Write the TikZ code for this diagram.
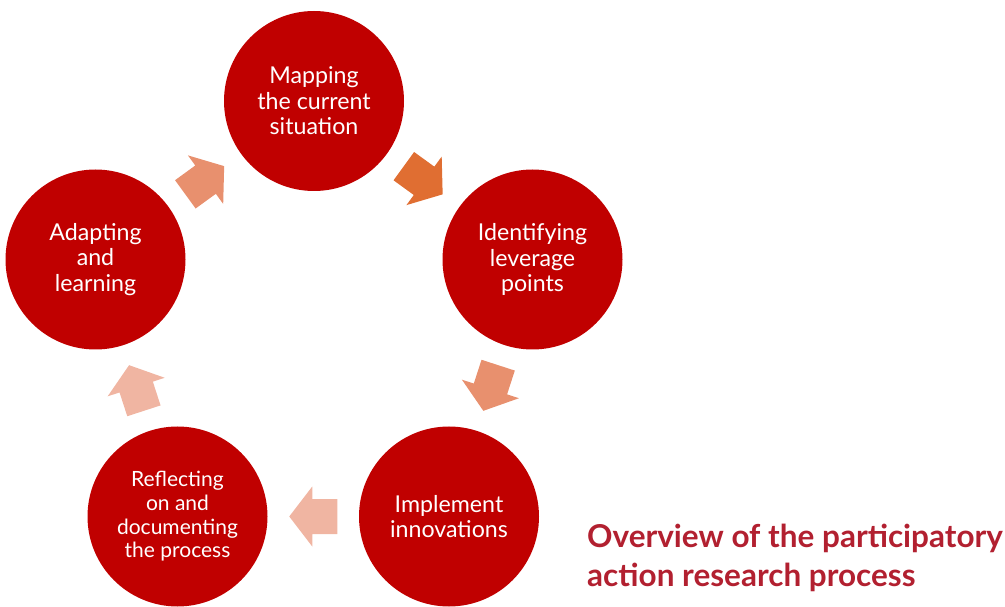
\documentclass[tikz,border=0pt]{standalone}
\usepackage{fontspec}
\setmainfont{Lato}
\usetikzlibrary{calc}

\definecolor{stepred}{RGB}{192,0,0}
\definecolor{titlered}{RGB}{178,32,48}
\definecolor{arrowdark}{RGB}{224,110,50}
\definecolor{arrowmid}{RGB}{232,144,110}
\definecolor{arrowlight}{RGB}{240,181,162}

\tikzset{
  stepcircle/.style={circle, fill=stepred, minimum size=180pt, inner sep=0pt,
    text=white, align=center, font=\fontsize{23.2}{25.6}\selectfont},
  % block arrow pointing along +x, centred on the origin
  cyclearrow/.pic={
    \fill[pic actions] (-24,-17.5) -- (1,-17.5) -- (1,-30) -- (24,0)
      -- (1,30) -- (1,17.5) -- (-24,17.5) -- cycle;
  }
}

\begin{document}
\begin{tikzpicture}[x=1pt, y=1pt]
  \useasboundingbox (0,0) rectangle (1005,606);

  % five steps on a regular pentagon
  \node[stepcircle] (map)   at (314,505)   {Mapping\\the current\\situation};
  \node[stepcircle] (ident) at (532.5,346.5) {Identifying\\leverage\\points};
  \node[stepcircle] (impl)  at (449,89.5)  {Implement\\innovations};
  \node[stepcircle, font=\fontsize{21}{23.6}\selectfont]
                    (refl)  at (177.5,89.5)  {Reflecting\\on and\\documenting\\the process};
  \node[stepcircle] (adapt) at (95.5,346.5)  {Adapting\\and\\learning};

  % arrows halfway between neighbouring steps
  \coordinate (m1) at ($(map)!0.5!(ident)$);
  \coordinate (m2) at ($(ident)!0.5!(impl)$);
  \coordinate (m3) at ($(impl)!0.5!(refl)$);
  \coordinate (m4) at ($(refl)!0.5!(adapt)$);
  \coordinate (m5) at ($(adapt)!0.5!(map)$);

  \path (m1) pic (a1) [fill=arrowdark,  rotate=-36]  {cyclearrow};
  \path (m2) pic (a2) [fill=arrowmid,   rotate=-108] {cyclearrow};
  \path (m3) pic (a3) [fill=arrowlight, rotate=180]  {cyclearrow};
  \path (m4) pic (a4) [fill=arrowlight, rotate=108]  {cyclearrow};
  \path (m5) pic (a5) [fill=arrowmid,   rotate=36]   {cyclearrow};

  % caption
  \node (title) [anchor=north west, inner sep=0pt, align=left, text=titlered,
    font=\fontsize{31.5}{39}\selectfont\bfseries] at (587,82)
    {Overview of the participatory\\action research process};
\end{tikzpicture}
\end{document}
